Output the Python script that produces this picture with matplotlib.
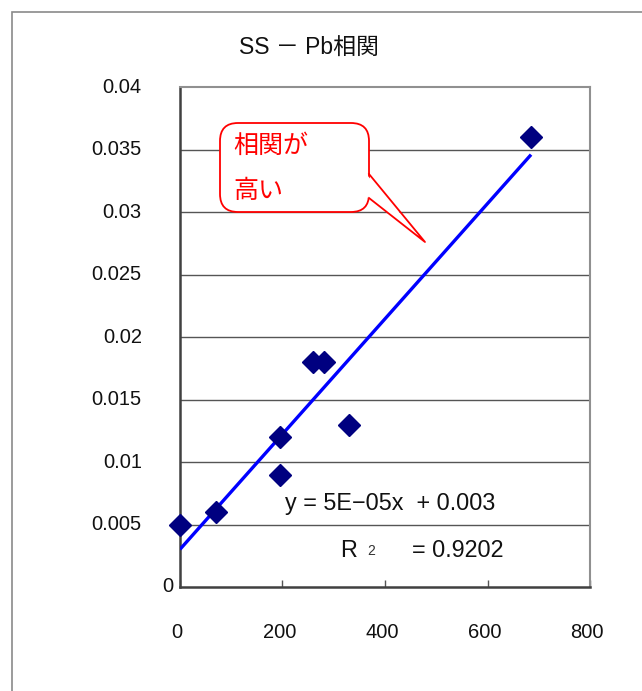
import numpy as np
import matplotlib
matplotlib.use("Agg")
import matplotlib.pyplot as plt
from matplotlib.patches import FancyBboxPatch, Polygon, Rectangle

plt.rcParams['font.family'] = ['Liberation Sans', 'Noto Sans CJK JP', 'DejaVu Sans']

title = "SS － Pb相関"
ss = [0, 70, 195, 195, 260, 280, 330, 685]
pb = [0.005, 0.006, 0.012, 0.009, 0.018, 0.018, 0.013, 0.036]
yticks = [0, 0.005, 0.01, 0.015, 0.02, 0.025, 0.03, 0.035, 0.04]
ytick_labels = ["0", "0.005", "0.01", "0.015", "0.02", "0.025", "0.03", "0.035", "0.04"]
xticks = [0, 200, 400, 600, 800]
xtick_labels = ["0", "200", "400", "600", "800"]
eq_text = "y = 5E−05x  + 0.003"
r2_text = "= 0.9202"
callout_lines = ["相関が", "高い"]

W, H = 642, 691
fig = plt.figure(figsize=(W / 100, H / 100), dpi=100)
fig.patch.set_facecolor("white")

# outer chart frame
fig.patches.append(Rectangle((12 / W, -0.1), 1.2, 1 - 12 / H + 0.1, transform=fig.transFigure,
                             fill=False, edgecolor="#8a8a8a", lw=1.2))

ax = fig.add_axes([180 / W, 1 - 587 / H, 410 / W, 500 / H])
ax.set_xlim(0, 800)
ax.set_ylim(0, 0.04)

for y in yticks[1:-1]:
    ax.axhline(y, color="#555555", lw=1.0, zorder=1)

for s in ["top", "right"]:
    ax.spines[s].set_color("#909090")
    ax.spines[s].set_linewidth(1.5)
for s in ["left", "bottom"]:
    ax.spines[s].set_color("#404040")
    ax.spines[s].set_linewidth(1.8)

ax.set_yticks(yticks)
ax.set_yticklabels([])
ax.tick_params(axis="y", length=0)
ax.set_xticks(xticks)
ax.set_xticklabels([])
ax.tick_params(axis="x", direction="in", length=5, width=1, color="#555555")

for v, lab in zip(yticks, ytick_labels):
    xoff = -0.017 if lab == "0" else -0.093
    ax.text(xoff, v, lab, transform=ax.get_yaxis_transform(), ha="right", va="center",
            fontsize=14.5, color="#111111")

for v, lab in zip(xticks, xtick_labels):
    ax.text(v - 6, -0.092, lab, transform=ax.get_xaxis_transform(), ha="center", va="center",
            fontsize=14.5, color="#111111")

# trendline
slope, intercept = np.polyfit(ss, pb, 1)
xl = np.array([min(ss), max(ss)])
ax.plot(xl, slope * xl + intercept, color="#0000FF", lw=2.4, zorder=3, solid_capstyle="butt")

ax.plot(ss, pb, linestyle="none", marker="D", ms=11, color="#000080", zorder=4, clip_on=False)

ax.text(205, 0.0067, eq_text, fontsize=16.8, color="#111111", va="center")
ax.text(312, 0.0029, "R", fontsize=16.8, color="#111111", va="center")
ax.text(365, 0.0029, "2", fontsize=10, color="#333333", va="center")
ax.text(453, 0.0029, r2_text, fontsize=16.8, color="#111111", va="center")

fig.text(309 / W, 1 - 48 / H, title, ha="center", va="center", fontsize=16.5, color="#111111")

# callout drawn in pixel coordinates on an overlay
ov = fig.add_axes([0, 0, 1, 1], facecolor="none")
ov.set_xlim(0, W)
ov.set_ylim(H, 0)
ov.axis("off")
box = FancyBboxPatch((220, 123), 149, 89, boxstyle="round,pad=0,rounding_size=18",
                     facecolor="white", edgecolor="#FF0000", lw=1.3, zorder=5)
ov.add_patch(box)
tail_fill = Polygon([(367, 175), (425, 242), (367, 197)], closed=True,
                    facecolor="white", edgecolor="none", zorder=6)
ov.add_patch(tail_fill)
ov.plot([369, 425, 369], [174, 242, 198], color="#FF0000", lw=1.3, zorder=7)
ov.text(233, 146, callout_lines[0], fontsize=18, color="#FF0000", va="center", ha="left",
        family=['Noto Sans CJK JP', 'DejaVu Sans'], zorder=8)
ov.text(233, 191, callout_lines[1], fontsize=18, color="#FF0000", va="center", ha="left",
        family=['Noto Sans CJK JP', 'DejaVu Sans'], zorder=8)

fig.savefig("out.png", dpi=100)
